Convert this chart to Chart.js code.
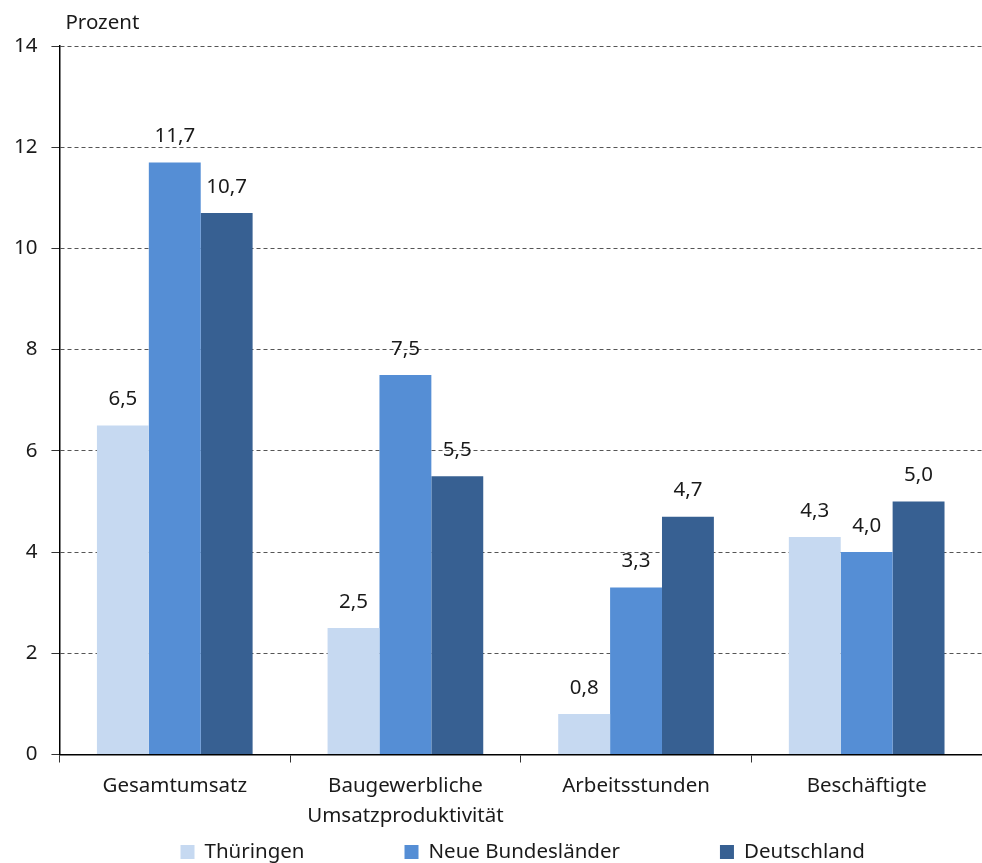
<!DOCTYPE html>
<html>
<head>
<meta charset="utf-8">
<script src="https://cdn.jsdelivr.net/npm/chart.js@4.4.1/dist/chart.umd.min.js"></script>
<style>
  html, body { margin: 0; padding: 0; background: #fff; }
  #wrap { width: 982px; height: 863px; }
</style>
</head>
<body>
<div id="wrap"><canvas id="bauChart"></canvas></div>
<script>
var Kategorien = ['Gesamtumsatz', ['Baugewerbliche', 'Umsatzproduktivität'], 'Arbeitsstunden', 'Beschäftigte'];
var Thueringen = [6.5, 2.5, 0.8, 4.3];
var NeueLaender = [11.7, 7.5, 3.3, 4.0];
var Deutschland = [10.7, 5.5, 4.7, 5.0];
var yTicks = [0, 2, 4, 6, 8, 10, 12, 14];

var schrift = "'Noto Sans', sans-serif";
var groesse = 20.5;

// Werte ueber den Balken
var wertePlugin = {
    id: 'werte',
    afterDatasetsDraw: function (chart) {
        var ctx = chart.ctx;
        ctx.save();
        ctx.font = groesse + 'px ' + schrift;
        ctx.fillStyle = '#1a1a1a';
        ctx.textAlign = 'center';
        ctx.textBaseline = 'middle';
        chart.data.datasets.forEach(function (ds, i) {
            var meta = chart.getDatasetMeta(i);
            meta.data.forEach(function (bar, j) {
                var txt = ds.data[j].toFixed(1).replace('.', ',');
                ctx.fillText(txt, bar.x, bar.y - 26);
            });
        });
        ctx.restore();
    }
};

// "Prozent" oben links und Legende unten
var rahmenPlugin = {
    id: 'rahmen',
    afterDraw: function (chart) {
        var ctx = chart.ctx;
        var area = chart.chartArea;
        ctx.save();
        ctx.font = groesse + 'px ' + schrift;
        ctx.fillStyle = '#1a1a1a';
        ctx.textAlign = 'left';
        ctx.textBaseline = 'middle';
        ctx.fillText('Prozent', area.left + 6, 23);

        // legende
        var box = 14, abstand = 100, luft = 10;
        var breiten = chart.data.datasets.map(function (ds) {
            return box + luft + ctx.measureText(ds.label).width;
        });
        var gesamt = breiten.reduce(function (a, b) { return a + b; }, 0) + abstand * (breiten.length - 1);
        var x = (area.left + area.right) / 2 - gesamt / 2 + 2;
        var y = 852;
        chart.data.datasets.forEach(function (ds, i) {
            ctx.fillStyle = ds.backgroundColor;
            ctx.fillRect(x, y - box / 2, box, box);
            ctx.fillStyle = '#1a1a1a';
            ctx.fillText(ds.label, x + box + luft, y);
            x += breiten[i] + abstand;
        });
        ctx.restore();
    }
};

var chartdata = {
    labels: Kategorien,
    datasets: [
        { label: 'Thüringen', data: Thueringen, backgroundColor: '#c6d9f1' },
        { label: 'Neue Bundesländer', data: NeueLaender, backgroundColor: '#558ed5' },
        { label: 'Deutschland', data: Deutschland, backgroundColor: '#376092' }
    ]
};

var graph = new Chart(document.getElementById('bauChart'), {
    type: 'bar',
    data: chartdata,
    options: {
        responsive: true,
        maintainAspectRatio: false,
        animation: false,
        layout: { padding: { top: 46, right: 0, left: 0, bottom: 23 } },
        datasets: { bar: { categoryPercentage: 0.675, barPercentage: 1.0 } },
        plugins: {
            legend: { display: false },
            tooltip: { enabled: false }
        },
        scales: {
            x: {
                grid: {
                    offset: true,
                    drawOnChartArea: false,
                    drawTicks: true,
                    tickLength: 8,
                    tickColor: '#333'
                },
                border: { color: '#000', width: 1.5 },
                ticks: {
                    padding: 8,
                    color: '#1a1a1a',
                    font: { family: schrift, size: groesse, lineHeight: 1.5 },
                    maxRotation: 0
                }
            },
            y: {
                min: 0,
                max: 14,
                afterBuildTicks: function (axis) {
                    axis.ticks = yTicks.map(function (v) { return { value: v }; });
                },
                grid: {
                    color: function (c) { return c.tick && c.tick.value === 0 ? 'rgba(0,0,0,0)' : '#555'; },
                    lineWidth: 1,
                    tickLength: 8,
                    tickColor: '#333',
                    tickBorderDash: []
                },
                border: { color: '#000', width: 1.5, dash: [4, 3] },
                ticks: {
                    padding: 14,
                    color: '#1a1a1a',
                    font: { family: schrift, size: groesse }
                }
            }
        }
    },
    plugins: [wertePlugin, rahmenPlugin]
});
</script>
</body>
</html>
